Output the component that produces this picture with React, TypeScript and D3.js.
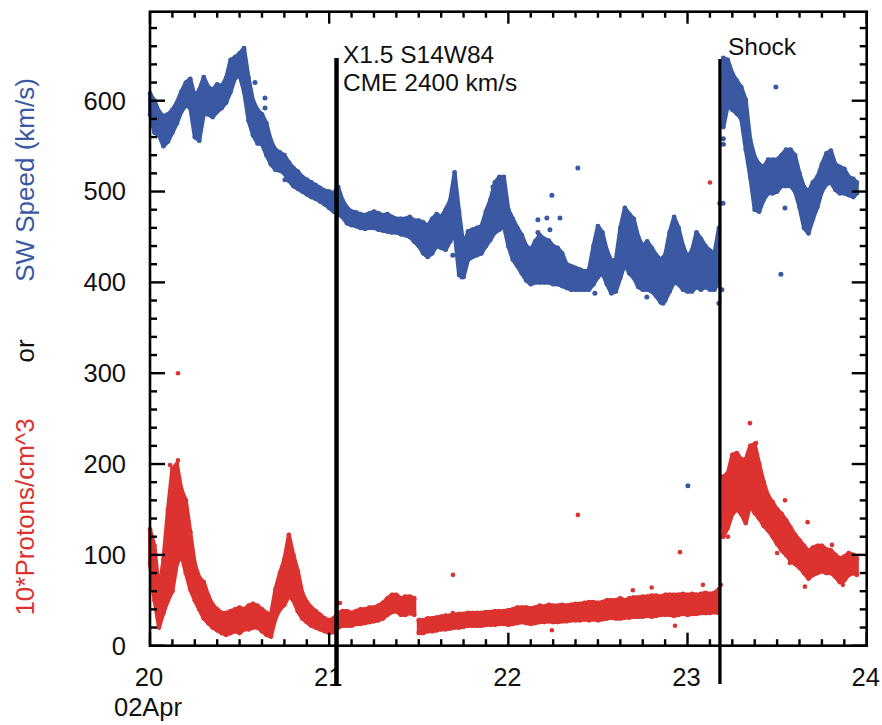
import React from 'react';
import * as d3 from 'd3';

// ---- data ----
const xMajorTicks = [20, 21, 22, 23, 24];
const xTickLabels = ['20', '21', '22', '23', '24'];
const xDateLabel = '02Apr';
const yMajorTicks = [0, 100, 200, 300, 400, 500, 600];
const yTickLabels = ['0', '100', '200', '300', '400', '500', '600'];

// solar wind speed (km/s): [day, low, high] of the dense point cloud
const speedBands: [number, number, number][] = [
  [20.0, 585, 608], [20.025, 565, 600], [20.05, 562, 588], [20.075, 550, 583], [20.1, 555, 585],
  [20.125, 565, 590], [20.15, 575, 598], [20.175, 588, 610], [20.2, 595, 620], [20.225, 592, 624],
  [20.25, 560, 605], [20.275, 556, 612], [20.3, 585, 626], [20.325, 585, 615], [20.35, 582, 612],
  [20.375, 588, 618], [20.4, 592, 616], [20.425, 598, 625], [20.45, 610, 645], [20.475, 625, 648],
  [20.5, 628, 652], [20.525, 610, 658], [20.55, 578, 625], [20.575, 562, 600], [20.6, 553, 590],
  [20.625, 552, 585], [20.65, 540, 575], [20.675, 530, 556], [20.7, 524, 546], [20.725, 523, 543],
  [20.75, 520, 540], [20.775, 512, 532], [20.8, 506, 526], [20.825, 503, 522], [20.85, 500, 516],
  [20.875, 497, 513], [20.9, 494, 510], [20.925, 492, 507], [20.95, 489, 504], [20.975, 486, 501],
  [21.0, 482, 500], [21.025, 478, 498], [21.05, 475, 505], [21.075, 472, 490], [21.1, 465, 482],
  [21.125, 463, 478], [21.15, 462, 477], [21.175, 460, 475], [21.2, 459, 474], [21.225, 460, 476],
  [21.25, 460, 478], [21.275, 458, 476], [21.3, 457, 474], [21.325, 456, 475], [21.35, 455, 472],
  [21.375, 455, 470], [21.4, 453, 470], [21.425, 452, 470], [21.45, 450, 472], [21.475, 445, 468],
  [21.5, 440, 468], [21.525, 432, 466], [21.55, 428, 462], [21.575, 432, 470], [21.6, 440, 475],
  [21.625, 438, 472], [21.65, 436, 480], [21.675, 445, 490], [21.7, 455, 521], [21.725, 408, 478],
  [21.75, 406, 440], [21.775, 425, 456], [21.8, 428, 458], [21.825, 430, 460], [21.85, 432, 462],
  [21.875, 440, 478], [21.9, 447, 491], [21.925, 455, 510], [21.95, 458, 516], [21.975, 462, 516],
  [22.0, 440, 480], [22.025, 425, 470], [22.05, 418, 460], [22.075, 410, 452], [22.1, 402, 440],
  [22.125, 398, 436], [22.15, 400, 445], [22.175, 400, 452], [22.2, 400, 448], [22.225, 400, 446],
  [22.25, 398, 440], [22.275, 398, 438], [22.3, 396, 432], [22.325, 394, 420], [22.35, 392, 418],
  [22.375, 392, 416], [22.4, 392, 414], [22.425, 392, 412], [22.45, 392, 414], [22.475, 398, 440],
  [22.5, 406, 462], [22.525, 410, 455], [22.55, 398, 435], [22.575, 388, 424], [22.6, 390, 425],
  [22.625, 405, 460], [22.65, 420, 482], [22.675, 410, 475], [22.7, 405, 470], [22.725, 395, 450],
  [22.75, 392, 440], [22.775, 392, 445], [22.8, 390, 438], [22.825, 385, 430], [22.85, 378, 425],
  [22.875, 380, 430], [22.9, 390, 455], [22.925, 400, 472], [22.95, 398, 460], [22.975, 392, 440],
  [23.0, 390, 428], [23.025, 390, 435], [23.05, 395, 455], [23.075, 392, 448], [23.1, 395, 440],
  [23.125, 392, 435], [23.15, 392, 432], [23.175, 400, 460],
  [23.2, 571, 647], [23.225, 595, 645], [23.25, 590, 630], [23.275, 586, 622], [23.3, 580, 615],
  [23.325, 546, 601], [23.35, 516, 557], [23.375, 480, 538], [23.4, 478, 530], [23.425, 491, 527],
  [23.45, 498, 535], [23.475, 498, 535], [23.5, 500, 535], [23.525, 506, 540], [23.55, 506, 546],
  [23.575, 506, 546], [23.6, 500, 540], [23.625, 483, 520], [23.65, 460, 505], [23.675, 454, 500],
  [23.7, 470, 510], [23.725, 483, 516], [23.75, 500, 530], [23.775, 508, 542], [23.8, 510, 545],
  [23.825, 502, 530], [23.85, 498, 527], [23.875, 498, 525], [23.9, 496, 516], [23.925, 494, 514],
  [23.945, 498, 510],
];

// isolated speed points: [day, km/s]
const speedPoints: [number, number][] = [
  [20.586, 620], [20.642, 603], [20.642, 592], [20.753, 513], [21.69, 430], [21.741, 406],
  [21.914, 505], [22.048, 439], [22.165, 469], [22.165, 455], [22.215, 471], [22.232, 458],
  [22.243, 496], [22.288, 471], [22.388, 526], [22.483, 388], [22.773, 384], [22.863, 377],
  [23.175, 377], [23.18, 487], [23.192, 392], [23.198, 487], [23.2, 552], [23.2, 558],
  [23.002, 176], [23.493, 615], [23.521, 409], [23.544, 482],
];

// 10 * proton density (cm^-3): [day, low, high]
const densityBands: [number, number, number][] = [
  [20.0, 90, 128], [20.025, 50, 110], [20.05, 20, 60], [20.075, 36, 95], [20.1, 50, 150],
  [20.125, 60, 195], [20.15, 90, 200], [20.175, 100, 172], [20.2, 80, 160], [20.225, 62, 125],
  [20.25, 50, 90], [20.275, 40, 75], [20.3, 30, 70], [20.325, 25, 55], [20.35, 20, 45],
  [20.375, 17, 40], [20.4, 14, 36], [20.425, 12, 36], [20.45, 14, 38], [20.475, 16, 40],
  [20.5, 14, 42], [20.525, 18, 40], [20.55, 18, 44], [20.575, 20, 46], [20.6, 20, 44],
  [20.625, 16, 40], [20.65, 12, 36], [20.675, 10, 34], [20.7, 30, 62], [20.725, 40, 80],
  [20.75, 45, 95], [20.775, 55, 122], [20.8, 50, 100], [20.825, 38, 82], [20.85, 30, 58],
  [20.875, 26, 48], [20.9, 22, 42], [20.925, 20, 38], [20.95, 18, 34], [20.975, 16, 30],
  [21.0, 14, 28], [21.025, 15, 30], [21.05, 20, 36], [21.075, 22, 38], [21.1, 22, 38],
  [21.125, 22, 36], [21.15, 24, 38], [21.175, 24, 40], [21.2, 25, 40], [21.225, 26, 42],
  [21.25, 27, 42], [21.275, 28, 44], [21.3, 30, 47], [21.325, 34, 52], [21.35, 37, 56],
  [21.375, 38, 56], [21.4, 34, 52], [21.425, 34, 54], [21.45, 36, 54], [21.475, 34, 52],
  [21.5, 14, 28], [21.525, 14, 28], [21.55, 16, 30], [21.575, 16, 30], [21.6, 17, 31],
  [21.625, 18, 32], [21.65, 18, 33], [21.675, 19, 33], [21.7, 20, 34], [21.725, 20, 35],
  [21.75, 21, 35], [21.775, 22, 36], [21.8, 22, 36], [21.825, 22, 36], [21.85, 22, 36],
  [21.875, 23, 37], [21.9, 23, 37], [21.925, 23, 38], [21.95, 24, 38], [21.975, 24, 38],
  [22.0, 23, 39], [22.025, 24, 40], [22.05, 25, 42], [22.075, 26, 42], [22.1, 25, 42],
  [22.125, 24, 41], [22.15, 25, 42], [22.175, 26, 44], [22.2, 26, 43], [22.225, 27, 45],
  [22.25, 26, 44], [22.275, 26, 44], [22.3, 27, 45], [22.325, 27, 44], [22.35, 28, 45],
  [22.375, 28, 46], [22.4, 28, 46], [22.425, 29, 47], [22.45, 28, 48], [22.475, 29, 48],
  [22.5, 28, 47], [22.525, 29, 48], [22.55, 30, 50], [22.575, 31, 50], [22.6, 30, 50],
  [22.625, 30, 52], [22.65, 31, 50], [22.675, 31, 52], [22.7, 32, 53], [22.725, 32, 53],
  [22.75, 32, 54], [22.775, 33, 54], [22.8, 32, 55], [22.825, 33, 55], [22.85, 34, 54],
  [22.875, 34, 56], [22.9, 34, 56], [22.925, 33, 56], [22.95, 34, 56], [22.975, 35, 57],
  [23.0, 34, 56], [23.025, 35, 57], [23.05, 35, 56], [23.075, 36, 57], [23.1, 36, 58],
  [23.125, 36, 57], [23.15, 37, 58], [23.175, 36, 62],
  [23.2, 120, 186], [23.225, 130, 190], [23.25, 145, 210], [23.275, 150, 212], [23.3, 145, 205],
  [23.325, 135, 205], [23.35, 155, 220], [23.375, 146, 222], [23.4, 140, 200], [23.425, 132, 180],
  [23.45, 127, 165], [23.475, 120, 158], [23.5, 112, 150], [23.525, 105, 145], [23.55, 100, 138],
  [23.575, 94, 130], [23.6, 90, 122], [23.625, 86, 116], [23.65, 80, 110], [23.675, 74, 104],
  [23.7, 78, 108], [23.725, 80, 110], [23.75, 82, 110], [23.775, 80, 106], [23.8, 80, 105],
  [23.825, 76, 100], [23.85, 70, 96], [23.875, 72, 98], [23.9, 78, 102], [23.925, 80, 100],
  [23.945, 78, 96],
];

// isolated density points: [day, 10*protons/cm^3]
const densityPoints: [number, number][] = [
  [20.156, 300], [20.156, 204], [20.112, 199], [21.06, 47], [21.691, 78], [21.69, 36],
  [22.243, 17], [22.388, 144], [22.695, 61], [22.8, 64], [22.93, 22], [22.958, 103],
  [23.086, 67], [23.125, 510], [23.186, 67], [23.226, 120], [23.348, 245], [23.382, 223],
  [23.5, 102], [23.544, 160], [23.571, 91], [23.655, 65], [23.67, 136], [23.806, 111],
  [23.867, 67],
];

// event markers
const eventDays = [21.041, 23.181];
const eventLabels = [['X1.5 S14W84', 'CME 2400 km/s'], ['Shock']];

// ---- layout / style ----
const W = 882;
const H = 725;
const X0 = 150, X1 = 866.7, Y0 = 645.7, Y1 = 11.7;
const Y_MAX = 698;
const BLUE = '#3a59a2';
const RED = '#dc3330';
const FONT = '"Liberation Sans", Arial, Helvetica, sans-serif';

type Band = [number, number, number];

// split a band series into runs wherever consecutive bins do not overlap
function splitRuns(bands: Band[]): Band[][] {
  const runs: Band[][] = [];
  let cur: Band[] = [];
  bands.forEach((b, i) => {
    if (i > 0) {
      const p = bands[i - 1];
      if (b[1] > p[2] || b[2] < p[1]) {
        runs.push(cur);
        cur = [];
      }
    }
    cur.push(b);
  });
  if (cur.length) runs.push(cur);
  return runs;
}

export default function App() {
  const x = d3.scaleLinear().domain([20, 24]).range([X0, X1]);
  const y = d3.scaleLinear().domain([0, Y_MAX]).range([Y0, Y1]);

  const area = d3
    .area<Band>()
    .x((d) => x(d[0]))
    .y0((d) => y(d[1]))
    .y1((d) => y(d[2]))
    .curve(d3.curveLinear);

  const xMinor = d3.range(20, 24.0001, 0.125).filter(
    (t) => Math.abs(t - Math.round(t)) > 1e-6
  );
  const yMinor = d3.range(0, Y_MAX, 20).filter((v) => v % 100 !== 0);

  const cloud = (bands: Band[], pts: [number, number][], color: string, r: number) => (
    <g>
      {splitRuns(bands).map((run, i) => (
        <path
          key={'a' + i}
          d={area(run) || ''}
          fill={color}
          stroke={color}
          strokeWidth={4}
          strokeLinejoin="round"
        />
      ))}
      <g fill={color}>
        {bands.map(([t, lo, hi], i) => (
          <g key={'e' + i}>
            <circle cx={x(t)} cy={y(lo)} r={2.4} />
            <circle cx={x(t)} cy={y(hi)} r={2.4} />
          </g>
        ))}
        {pts.map(([t, v], i) => (
          <circle key={'p' + i} cx={x(t)} cy={y(v)} r={r} />
        ))}
      </g>
    </g>
  );

  return (
    <svg
      width={W}
      height={H}
      viewBox={`0 0 ${W} ${H}`}
      style={{ position: 'absolute', left: 0, top: 0, background: '#fff' }}
      fontFamily={FONT}
    >
      <rect x={0} y={0} width={W} height={H} fill="#fff" />

      {cloud(speedBands, speedPoints, BLUE, 2.5)}
      {cloud(densityBands, densityPoints, RED, 2.3)}

      {/* frame */}
      <rect x={X0} y={Y1} width={X1 - X0} height={Y0 - Y1} fill="none" stroke="#000" strokeWidth={2.6} />

      {/* ticks (inward on all four sides) */}
      <g stroke="#000" strokeWidth={2.4}>
        {xMajorTicks.map((t) => (
          <g key={'xm' + t}>
            <line x1={x(t)} x2={x(t)} y1={Y0} y2={Y0 - 13} />
            <line x1={x(t)} x2={x(t)} y1={Y1} y2={Y1 + 12} />
          </g>
        ))}
        {xMinor.map((t) => (
          <g key={'xn' + t}>
            <line x1={x(t)} x2={x(t)} y1={Y0} y2={Y0 - 6.5} />
            <line x1={x(t)} x2={x(t)} y1={Y1} y2={Y1 + 6} />
          </g>
        ))}
        {yMajorTicks.map((v) => (
          <g key={'ym' + v}>
            <line x1={X0} x2={X0 + 15} y1={y(v)} y2={y(v)} />
            <line x1={X1} x2={X1 - 15} y1={y(v)} y2={y(v)} />
          </g>
        ))}
        {yMinor.map((v) => (
          <g key={'yn' + v}>
            <line x1={X0} x2={X0 + 7} y1={y(v)} y2={y(v)} />
            <line x1={X1} x2={X1 - 7} y1={y(v)} y2={y(v)} />
          </g>
        ))}
      </g>

      {/* y tick labels */}
      <g fontSize={25.5} fill="#111" textAnchor="end">
        {yMajorTicks.map((v, i) => (
          <text key={v} x={126} y={y(v)} dy="0.35em">
            {yTickLabels[i]}
          </text>
        ))}
      </g>

      {/* x tick labels */}
      <g fontSize={25.5} fill="#111" textAnchor="middle">
        {xMajorTicks.map((t, i) => (
          <text key={t} x={x(t) - 1} y={686}>
            {xTickLabels[i]}
          </text>
        ))}
        <text x={x(20) - 2} y={716}>
          {xDateLabel}
        </text>
      </g>

      {/* y axis title */}
      <g fontSize={26} textAnchor="middle">
        <text transform={`translate(34,180) rotate(-90)`} fill={BLUE}>
          SW Speed (km/s)
        </text>
        <text transform={`translate(34,351) rotate(-90)`} fill="#111">
          or
        </text>
        <text transform={`translate(34,517) rotate(-90)`} fill={RED}>
          10*Protons/cm^3
        </text>
      </g>

      {/* event lines */}
      <line x1={x(eventDays[0])} x2={x(eventDays[0])} y1={58} y2={686} stroke="#000" strokeWidth={4.5} />
      <line x1={x(eventDays[1])} x2={x(eventDays[1])} y1={59} y2={684} stroke="#000" strokeWidth={3.3} />

      <g fontSize={24.5} fill="#111">
        <text x={x(eventDays[0]) + 6.5} y={63}>
          {eventLabels[0][0]}
        </text>
        <text x={x(eventDays[0]) + 6.5} y={90.5}>
          {eventLabels[0][1]}
        </text>
        <text x={x(eventDays[1]) + 8} y={55}>
          {eventLabels[1][0]}
        </text>
      </g>
    </svg>
  );
}
